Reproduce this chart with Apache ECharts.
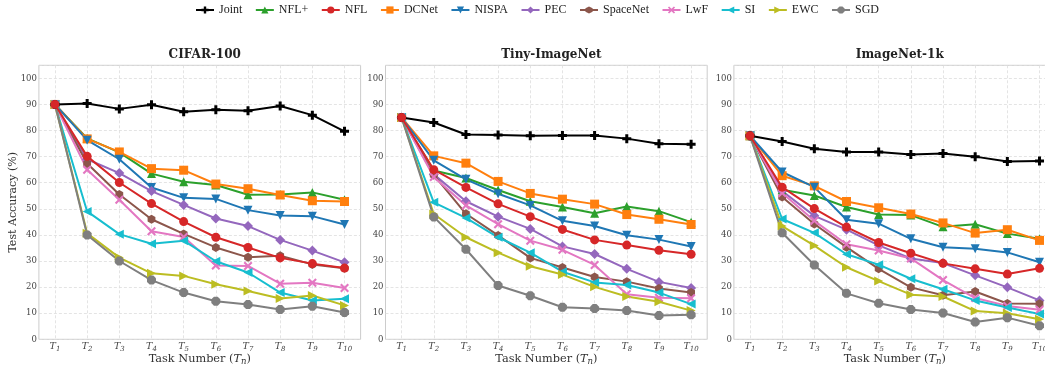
<!DOCTYPE html>
<html>
<head>
<meta charset="utf-8">
<script src="https://cdn.jsdelivr.net/npm/echarts@6/dist/echarts.min.js"></script>
<style>html,body{margin:0;padding:0;background:#fff}#c{width:1045px;height:368px}</style>
</head>
<body>
<div id="c"></div>
<script>
const tasks = [1,2,3,4,5,6,7,8,9,10];
const datasets = ['CIFAR-100','Tiny-ImageNet','ImageNet-1k'];
const methods = ['Joint','NFL+','NFL','DCNet','NISPA','PEC','SpaceNet','LwF','SI','EWC','SGD'];

// CIFAR-100
const cifarJoint    = [90, 90.4, 88.3, 89.9, 87.2, 88.0, 87.6, 89.4, 85.9, 79.7];
const cifarNFLp     = [90, 77.0, 71.6, 63.5, 60.4, 59.1, 55.4, 55.5, 56.3, 53.5];
const cifarNFL      = [90, 70.1, 60.1, 52.0, 45.1, 39.1, 35.2, 31.2, 29.0, 27.3];
const cifarDCNet    = [90, 76.8, 71.8, 65.4, 64.8, 59.5, 57.7, 55.3, 53.1, 52.8];
const cifarNISPA    = [90, 76.3, 69.0, 58.2, 54.2, 53.8, 49.5, 47.4, 47.2, 44.0];
const cifarPEC      = [90, 69.0, 63.7, 56.8, 51.5, 46.3, 43.4, 38.1, 34.0, 29.5];
const cifarSpaceNet = [90, 67.4, 55.5, 46.0, 40.4, 35.2, 31.4, 32.0, 28.7, 27.2];
const cifarLwF      = [90, 65.0, 53.5, 41.4, 39.2, 28.3, 28.1, 21.3, 21.7, 19.7];
const cifarSI       = [90, 49.0, 40.3, 36.6, 37.8, 29.9, 25.6, 17.9, 14.9, 15.5];
const cifarEWC      = [90, 40.6, 31.3, 25.3, 24.3, 21.1, 18.5, 15.6, 16.8, 13.0];
const cifarSGD      = [90, 40.0, 30.0, 22.7, 17.9, 14.6, 13.3, 11.4, 12.7, 10.3];

// Tiny-ImageNet
const tinyJoint    = [85, 83.1, 78.5, 78.3, 78.0, 78.1, 78.1, 76.9, 74.9, 74.7];
const tinyNFLp     = [85, 64.7, 61.8, 57.2, 52.9, 50.7, 48.3, 50.9, 49.1, 44.9];
const tinyNFL      = [85, 65.0, 58.2, 51.9, 47.0, 42.1, 38.1, 36.1, 34.1, 32.6];
const tinyDCNet    = [85, 70.3, 67.5, 60.5, 55.9, 53.7, 51.8, 47.8, 46.0, 44.0];
const tinyNISPA    = [85, 68.6, 61.3, 55.8, 51.3, 45.4, 43.4, 39.9, 38.2, 35.6];
const tinyPEC      = [85, 63.2, 52.9, 47.0, 42.3, 35.6, 32.7, 27.0, 22.0, 19.7];
const tinySpaceNet = [85, 63.0, 48.1, 39.8, 31.2, 27.5, 23.9, 22.1, 19.5, 17.9];
const tinyLwF      = [85, 62.2, 51.3, 44.1, 37.8, 34.3, 28.5, 17.3, 15.9, 15.7];
const tinySI       = [85, 52.5, 46.5, 39.1, 33.2, 25.9, 21.8, 20.8, 17.9, 13.5];
const tinyEWC      = [85, 48.0, 39.1, 33.2, 28.0, 24.8, 20.1, 16.4, 14.4, 11.0];
const tinySGD      = [85, 46.9, 34.5, 20.6, 16.7, 12.3, 11.8, 11.0, 9.1, 9.4];

// ImageNet-1k
const inJoint    = [78, 75.8, 73.0, 71.8, 71.8, 70.8, 71.2, 70.0, 68.1, 68.3];
const inNFLp     = [78, 57.3, 55.1, 50.7, 47.8, 47.6, 43.1, 44.1, 40.5, 38.5];
const inNFL      = [78, 58.3, 50.1, 43.0, 37.1, 33.0, 29.1, 27.0, 25.0, 27.2];
const inDCNet    = [78, 62.7, 58.8, 52.8, 50.4, 48.0, 44.6, 40.7, 42.0, 37.9];
const inNISPA    = [78, 64.1, 58.3, 45.8, 44.3, 38.5, 35.3, 34.7, 33.3, 29.5];
const inPEC      = [78, 56.8, 47.3, 42.0, 36.0, 31.0, 29.2, 24.5, 19.9, 14.9];
const inSpaceNet = [78, 54.5, 44.2, 35.3, 27.0, 19.9, 16.9, 18.3, 13.7, 13.6];
const inLwF      = [78, 56.1, 45.4, 36.4, 34.0, 31.0, 22.7, 15.8, 12.8, 11.3];
const inSI       = [78, 46.1, 40.8, 32.6, 28.6, 23.2, 19.2, 14.9, 12.2, 9.7];
const inEWC      = [78, 43.4, 35.9, 27.6, 22.3, 17.1, 16.4, 10.8, 10.0, 7.7];
const inSGD      = [78, 40.8, 28.5, 17.6, 13.8, 11.4, 10.1, 6.6, 8.3, 5.2];

const allData = [
  [cifarJoint, cifarNFLp, cifarNFL, cifarDCNet, cifarNISPA, cifarPEC, cifarSpaceNet, cifarLwF, cifarSI, cifarEWC, cifarSGD],
  [tinyJoint, tinyNFLp, tinyNFL, tinyDCNet, tinyNISPA, tinyPEC, tinySpaceNet, tinyLwF, tinySI, tinyEWC, tinySGD],
  [inJoint, inNFLp, inNFL, inDCNet, inNISPA, inPEC, inSpaceNet, inLwF, inSI, inEWC, inSGD]
];

const FONT = 'DejaVu Serif';
const plusPath = 'path://M-1,-3H1V-1H3V1H1V3H-1V1H-3V-1H-1Z';
const hexPath = 'path://M0,-1L0.866,-0.5L0.866,0.5L0,1L-0.866,0.5L-0.866,-0.5Z';
const xPath = 'path://M-3,-2L-2,-3L0,-1L2,-3L3,-2L1,0L3,2L2,3L0,1L-2,3L-3,2L-1,0Z';
const octPath = 'path://M-0.414,-1L0.414,-1L1,-0.414L1,0.414L0.414,1L-0.414,1L-1,0.414L-1,-0.414Z';

const styles = {
  'Joint':    {color:'#000000', symbol: plusPath, size: 9, rot: 0},
  'NFL+':     {color:'#2ca02c', symbol:'triangle', size: 9, rot: 0},
  'NFL':      {color:'#d62728', symbol:'circle', size: 9, rot: 0},
  'DCNet':    {color:'#ff7f0e', symbol:'rect', size: 9, rot: 0},
  'NISPA':    {color:'#1f77b4', symbol:'triangle', size: 9, rot: 180},
  'PEC':      {color:'#9467bd', symbol:'diamond', size: 10, rot: 0},
  'SpaceNet': {color:'#8c564b', symbol: hexPath, size: 9, rot: 0},
  'LwF':      {color:'#e377c2', symbol: xPath, size: 9, rot: 0},
  'SI':       {color:'#17becf', symbol:'triangle', size: 9, rot: 90},
  'EWC':      {color:'#bcbd22', symbol:'triangle', size: 9, rot: -90},
  'SGD':      {color:'#7f7f7f', symbol: octPath, size: 9, rot: 0}
};
const zOrder = {'NFL': 5, 'Joint': 4};

const gridLefts = [38.9, 385.5, 733.9];
const gridW = 321.7;

const grids = [], xAxes = [], yAxes = [], titles = [], series = [];
datasets.forEach((ds, d) => {
  grids.push({left: gridLefts[d], top: 65.3, width: gridW, height: 274, show: true,
    borderColor: '#cccccc', borderWidth: 1, containLabel: false, outerBoundsMode: 'none'});
  xAxes.push({
    type: 'category', gridIndex: d, data: tasks, boundaryGap: true,
    axisLine: {show: false}, axisTick: {show: false, alignWithLabel: true, interval: 0},
    splitLine: {show: true, alignWithLabel: true, interval: 0, lineStyle: {color: '#dddddd', type: [3, 2], width: 0.8}},
    axisLabel: {interval: 0, margin: 1, formatter: v => '{t|T}{s|' + v + '}',
      rich: {t: {fontFamily: FONT, fontStyle: 'italic', fontSize: 9.5, color: '#444'},
             s: {fontFamily: FONT, fontStyle: 'italic', fontSize: 7, color: '#444', padding: [5, 0, 0, 0]}}},
    name: '{a|Task Number (}{t|T}{s|n}{a|)}', nameLocation: 'middle', nameGap: 13, nameMoveOverlap: false,
    nameTextStyle: {rich: {
      a: {fontFamily: FONT, fontSize: 11.3, color: '#333'},
      t: {fontFamily: FONT, fontStyle: 'italic', fontSize: 11.3, color: '#333'},
      s: {fontFamily: FONT, fontStyle: 'italic', fontSize: 8.5, color: '#333', padding: [5, 0, 0, 0]}}}
  });
  yAxes.push({
    type: 'value', gridIndex: d, min: 0, max: 105, interval: 10,
    axisLine: {show: false}, axisTick: {show: false},
    splitLine: {show: true, lineStyle: {color: '#dddddd', type: [3, 2], width: 0.8}},
    axisLabel: {showMaxLabel: false, margin: 2, fontFamily: FONT, fontSize: 8.5, color: '#444'},
    name: d === 0 ? 'Test Accuracy (%)' : '', nameLocation: 'middle', nameGap: 20, nameMoveOverlap: false,
    nameTextStyle: {fontFamily: FONT, fontSize: 11, color: '#333'}
  });
  titles.push({text: ds, left: gridLefts[d] + gridW / 2, top: 44, textAlign: 'center',
    textStyle: {fontFamily: FONT, fontSize: 12, fontWeight: 'bold', color: '#222'}});
  methods.forEach((m, k) => {
    const st = styles[m];
    series.push({
      name: m, type: 'line', xAxisIndex: d, yAxisIndex: d,
      data: allData[d][k],
      symbol: st.symbol, symbolSize: st.size, symbolRotate: st.rot, symbolKeepAspect: true,
      showAllSymbol: true, z: 2 + (zOrder[m] || 0),
      lineStyle: {color: st.color, width: 2},
      itemStyle: {color: st.color, borderWidth: 0},
      emphasis: {disabled: true}, animation: false
    });
  });
});

const chart = echarts.init(document.getElementById('c'), null, {renderer: 'canvas'});
chart.setOption({
  backgroundColor: '#ffffff',
  animation: false,
  title: titles,
  legend: {data: methods, top: -1, left: 190, itemWidth: 18, itemHeight: 9, itemGap: 12.5,
    textStyle: {fontFamily: 'Liberation Serif', fontSize: 12, color: '#222'}},
  grid: grids, xAxis: xAxes, yAxis: yAxes, series: series
});
</script>
</body>
</html>
